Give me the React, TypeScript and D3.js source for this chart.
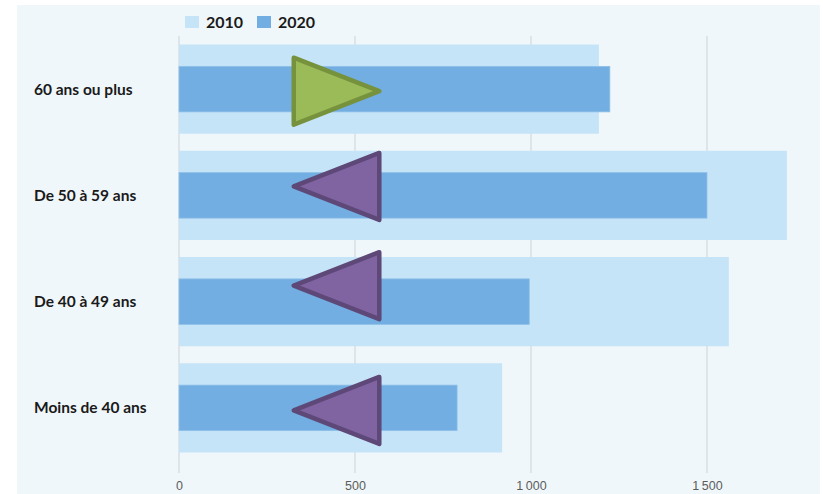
import { useEffect, useRef } from 'react';
import * as d3 from 'd3';

// Age groups, top to bottom
const categories = ['60 ans ou plus', 'De 50 à 59 ans', 'De 40 à 49 ans', 'Moins de 40 ans'];
const values2010 = [1193, 1727, 1562, 918];
const values2020 = [1224, 1500, 995, 790];
// direction of the change marker (right = up, left = down)
const markerDirection = ['right', 'left', 'left', 'left'];
const markerShift = [2, -9, -16, 2.5];
const markerRange = [326, 569];
const xTicks = [0, 500, 1000, 1500];
const legendLabels = ['2010', '2020'];

const colors = {
  bg: '#f0f7fa',
  light: '#c6e4f8',
  dark: '#72aee1',
  grid: '#d3d7da',
  green: '#9bbb59',
  greenStroke: '#76923c',
  purple: '#8064a2',
  purpleStroke: '#5e4878',
};

export default function App() {
  const width = 823;
  const height = 494;

  const x = d3.scaleLinear().domain([0, 1500]).range([179, 707]);
  const y = d3.scaleBand<string>()
    .domain(categories)
    .range([36, 461])
    .paddingInner(0.16)
    .paddingOuter(0.08);

  const gx = useRef<SVGGElement>(null);

  useEffect(() => {
    if (gx.current) {
      const fmt = (d: d3.NumberValue) => d3.format(',')(d as number).replace(/,/g, '\u2009');
      d3.select(gx.current)
        .call(d3.axisBottom(x).tickValues(xTicks).tickSize(0).tickPadding(7).tickFormat(fmt))
        .call(g => g.select('.domain').remove())
        .call(g => g.selectAll('text')
          .attr('fill', '#5c5c5c')
          .attr('font-size', 12.5)
          .attr('font-family', '"Liberation Sans", Arial, sans-serif'));
    }
  }, []);

  const innerH = y.bandwidth() * 0.51;
  const triH = 67;

  const trianglePath = (i: number) => {
    const cy = (y(categories[i]) ?? 0) + y.bandwidth() / 2 + markerShift[i];
    const x0 = x(markerRange[0]);
    const x1 = x(markerRange[1]);
    if (markerDirection[i] === 'right') {
      return `M${x0},${cy - triH / 2}L${x1},${cy}L${x0},${cy + triH / 2}Z`;
    }
    return `M${x1},${cy - triH / 2}L${x0},${cy}L${x1},${cy + triH / 2}Z`;
  };

  return (
    <svg width={width} height={height} style={{ position: 'absolute', left: 0, top: 0 }}>
      <rect x={17} y={5} width={803} height={489} fill={colors.bg} />

      {/* legend */}
      <g fontFamily="Lato, 'Open Sans', sans-serif" fontWeight="bold" fontSize={16} fill="#1a1a1a">
        {legendLabels.map((lab, i) => (
          <g key={lab} transform={`translate(${185 + i * 72},16)`}>
            <rect width={14} height={12} fill={i === 0 ? colors.light : colors.dark} />
            <text x={21} y={12}>{lab}</text>
          </g>
        ))}
      </g>

      {/* gridlines */}
      {xTicks.map(t => (
        <line key={t} x1={x(t)} x2={x(t)} y1={36} y2={473} stroke={colors.grid} strokeWidth={1.2} />
      ))}

      {/* bars */}
      {categories.map((c, i) => {
        const y0 = y(c) ?? 0;
        return (
          <g key={c}>
            <rect x={x(0)} y={y0} width={x(values2010[i]) - x(0)} height={y.bandwidth()} fill={colors.light} />
            <rect
              x={x(0)}
              y={y0 + (y.bandwidth() - innerH) / 2}
              width={x(values2020[i]) - x(0)}
              height={innerH}
              fill={colors.dark}
              stroke="#8fc0e8"
              strokeWidth={0.8}
            />
          </g>
        );
      })}

      {/* markers */}
      {categories.map((c, i) => (
        <path
          key={'m' + c}
          d={trianglePath(i)}
          fill={markerDirection[i] === 'right' ? colors.green : colors.purple}
          stroke={markerDirection[i] === 'right' ? colors.greenStroke : colors.purpleStroke}
          strokeWidth={4.5}
          strokeLinejoin="round"
        />
      ))}

      {/* category labels */}
      {categories.map(c => (
        <text
          key={'l' + c}
          x={34}
          y={(y(c) ?? 0) + y.bandwidth() / 2}
          dy="0.35em"
          fontFamily="Lato, 'Open Sans', sans-serif"
          fontWeight="bold"
          fontSize={15.5}
          fill="#1a1a1a"
        >
          {c}
        </text>
      ))}

      <g ref={gx} transform="translate(0,474)" />
    </svg>
  );
}
